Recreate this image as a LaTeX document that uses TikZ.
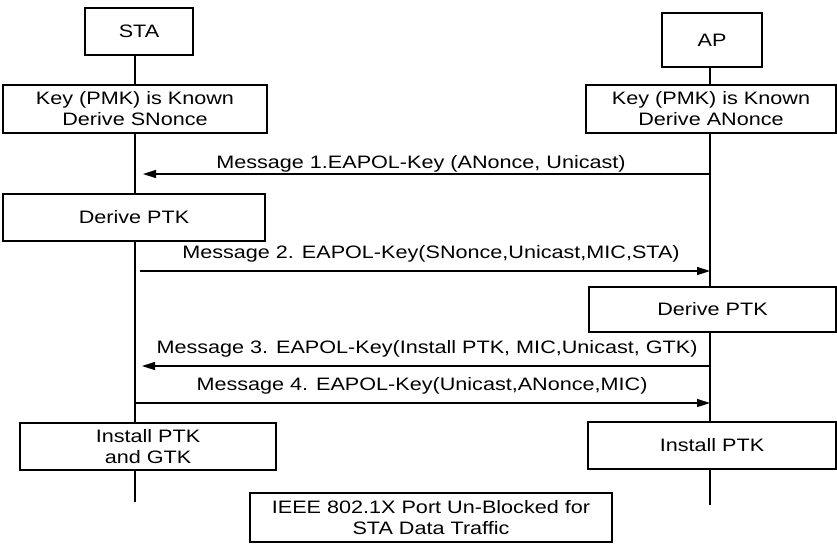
\documentclass[tikz,border=0pt]{standalone}
\usepackage{fontspec}
\setmainfont{Liberation Sans}[FakeStretch=1.2]
\usetikzlibrary{arrows.meta}
\begin{document}
\begin{tikzpicture}[x=1pt,y=-1pt,
  every node/.style={font=\fontsize{18}{21}\selectfont},
  stepbox/.style={draw, line width=1.5pt, inner sep=0pt, align=center},
  life/.style={line width=1.8pt},
  msg/.style={line width=1.5pt, -{Triangle[length=13pt,width=8pt]}},
  lbl/.style={anchor=base, inner sep=0pt}]
\useasboundingbox (0,0) rectangle (837,544);

% lifeline positions
\coordinate (sx) at (135,0);
\coordinate (ax) at (710,0);

% STA side
\node[stepbox, minimum width=108pt, minimum height=47pt] (sta) at (139,31.5) {STA};
\node[stepbox, minimum width=264pt, minimum height=48pt] (skey) at (135,109) {Key (PMK) is Known\\Derive SNonce};
\node[stepbox, minimum width=262pt, minimum height=47pt] (sder) at (134,217.5) {Derive PTK};
\node[stepbox, minimum width=256pt, minimum height=47pt] (sins) at (148,446.5) {Install PTK\\and GTK};
\coordinate (send) at (135,502);

% AP side
\node[stepbox, minimum width=100pt, minimum height=54pt] (ap) at (712,40) {AP};
\node[stepbox, minimum width=250pt, minimum height=48pt] (akey) at (711,109) {Key (PMK) is Known\\Derive ANonce};
\node[stepbox, minimum width=247pt, minimum height=45pt] (ader) at (712.5,309.5) {Derive PTK};
\node[stepbox, minimum width=248pt, minimum height=47pt] (ains) at (712,445.5) {Install PTK};
\coordinate (aend) at (710,505);

% port status
\node[stepbox, minimum width=362pt, minimum height=49pt] (port) at (431,517.5) {IEEE 802.1X Port Un-Blocked for\\STA Data Traffic};

% lifelines
\draw[life] (sta.south -| sx) -- (skey.north -| sx);
\draw[life] (skey.south -| sx) -- (sder.north -| sx);
\draw[life] (sder.south -| sx) -- (sins.north -| sx);
\draw[life] (sins.south -| sx) -- (send);
\draw[life] (ap.south -| ax) -- (akey.north -| ax);
\draw[life] (akey.south -| ax) -- (ader.north -| ax);
\draw[life] (ader.south -| ax) -- (ains.north -| ax);
\draw[life] (ains.south -| ax) -- (aend);

% message end points
\coordinate (m1a) at (710,174);  \coordinate (m1s) at (143,174);
\coordinate (m2s) at (140,271);  \coordinate (m2a) at (710,271);
\coordinate (m3a) at (710,366);  \coordinate (m3s) at (142,366);
\coordinate (m4s) at (135,403);  \coordinate (m4a) at (710,403);

% messages
\draw[msg] (m1a) -- (m1s);
\node[lbl] (l1) at (421,168) {Message 1.EAPOL-Key (ANonce, Unicast)};
\draw[msg] (m2s) -- (m2a);
\node[lbl] (l2) at (431,258) {Message 2. EAPOL-Key(SNonce,Unicast,MIC,STA)};
\draw[msg] (m3a) -- (m3s);
\node[lbl] (l3) at (427,353) {Message 3. EAPOL-Key(Install PTK, MIC,Unicast, GTK)};
\draw[msg] (m4s) -- (m4a);
\node[lbl] (l4) at (422,390) {Message 4. EAPOL-Key(Unicast,ANonce,MIC)};
\end{tikzpicture}
\end{document}
